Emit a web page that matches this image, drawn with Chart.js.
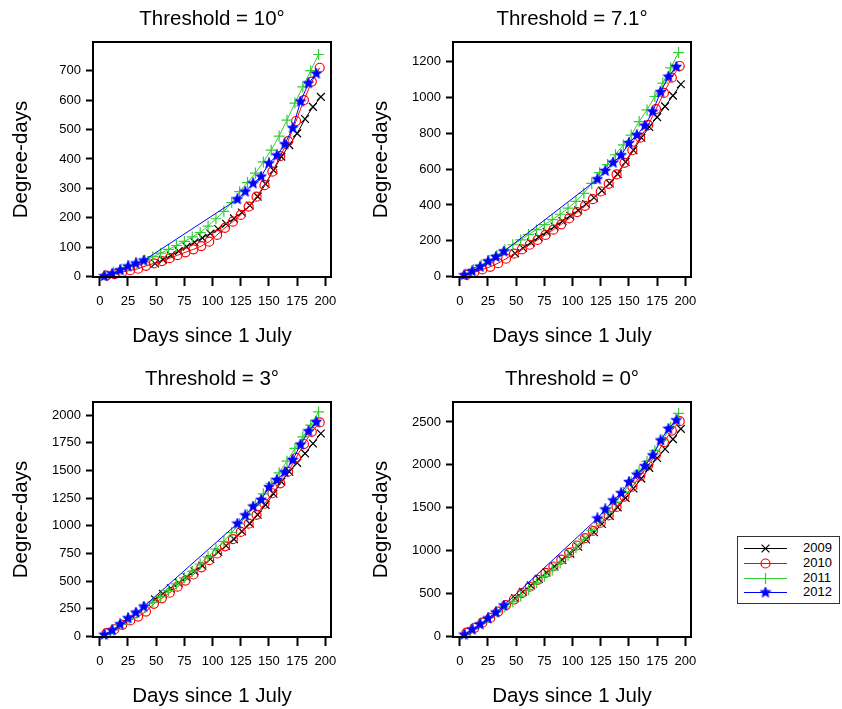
<!DOCTYPE html>
<html><head><meta charset="utf-8">
<script src="https://cdn.jsdelivr.net/npm/chart.js@4"></script>
<style>
html,body{margin:0;padding:0;background:#fff;width:842px;height:709px;overflow:hidden;position:relative;font-family:"Liberation Sans",Arial,sans-serif}
canvas.pc{position:absolute}
#legend{position:absolute;left:737px;top:536px;width:101px;height:66px;border:1px solid #333;background:#fff;z-index:5}
.row{position:absolute;left:0;height:14px;width:101px}
.row canvas{position:absolute;left:0;top:0}
.row span{position:absolute;left:65px;top:-1px;font-size:13px;line-height:16px;color:#000}
</style></head><body>
<canvas id="p1" class="pc" width="424" height="349" style="left:0px;top:0px"></canvas>
<canvas id="p2" class="pc" width="424" height="349" style="left:360px;top:0px"></canvas>
<canvas id="p3" class="pc" width="424" height="349" style="left:0px;top:360px"></canvas>
<canvas id="p4" class="pc" width="424" height="349" style="left:360px;top:360px"></canvas>
<div id="legend"></div>
<script>
// ---------- data ----------
const years = ['2009','2010','2011','2012'];
const xTicks = [0,25,50,75,100,125,150,175,200];

const days2009 = [49,56,63,70,77,84,91,98,105,112,119,126,133,140,147,154,161,168,175,182,189,196];
const days2010 = [6,13,20,27,34,41,48,55,62,69,76,83,90,97,104,111,118,125,132,139,146,153,160,167,174,181,188,195];
const days2011 = [5,12,19,26,33,40,47,54,61,68,75,82,89,96,103,110,117,124,131,138,145,152,159,166,173,180,187,194];
const days2012 = [4,11,18,25,32,39,122,129,136,143,150,157,164,171,178,185,192];

// Threshold = 10°
const t10_2009 = [45,58,72,87,102,117,132,147,162,180,198,218,242,272,315,362,408,447,487,536,577,611];
const t10_2010 = [4,9,16,22,27,37,45,53,63,73,83,93,104,119,142,166,187,210,238,272,311,357,410,461,529,600,663,710];
const t10_2011 = [5,15,25,36,46,57,68,80,93,106,120,135,150,172,197,222,252,289,320,352,390,430,478,532,590,645,700,755];
const t10_2012 = [2,10,22,35,45,55,263,289,317,340,385,412,450,505,595,657,690];
const t10_yTicks = [0,100,200,300,400,500,600,700];

// Threshold = 7.1°
const t71_2009 = [130,160,190,220,250,280,310,340,370,405,440,480,520,572,640,705,775,835,890,950,1010,1073];
const t71_2010 = [10,25,40,55,75,100,128,152,178,205,233,262,292,325,360,395,432,475,518,570,635,705,775,845,935,1025,1110,1175];
const t71_2011 = [15,40,65,92,120,150,178,205,235,262,290,318,348,382,420,465,520,580,625,680,735,790,865,930,1005,1080,1165,1250];
const t71_2012 = [8,30,55,85,110,140,543,590,636,677,745,790,842,920,1030,1115,1170];
const t71_yTicks = [0,200,400,600,800,1000,1200];

// Threshold = 3°
const t3_2009 = [335,385,435,485,535,590,640,700,765,820,880,950,1020,1100,1190,1290,1400,1490,1570,1655,1745,1835];
const t3_2010 = [30,65,105,145,180,225,295,345,395,450,505,560,625,690,750,815,880,945,1020,1100,1200,1295,1385,1490,1615,1740,1850,1935];
const t3_2011 = [20,60,110,160,210,262,310,360,415,475,530,590,655,720,790,860,940,1020,1100,1190,1290,1385,1480,1585,1700,1805,1910,2030];
const t3_2012 = [15,55,110,165,215,270,1020,1095,1175,1235,1350,1415,1485,1595,1735,1855,1940];
const t3_yTicks = [0,250,500,750,1000,1250,1500,1750,2000];

// Threshold = 0°
const t0_2009 = [445,520,595,670,745,815,890,965,1045,1130,1215,1310,1405,1505,1615,1725,1840,1965,2080,2185,2300,2420];
const t0_2010 = [45,100,160,215,290,365,430,505,580,660,740,815,895,975,1060,1145,1230,1325,1410,1510,1630,1745,1870,1995,2120,2265,2400,2510];
const t0_2011 = [25,95,160,220,285,345,405,470,545,625,700,775,855,945,1035,1135,1235,1340,1450,1565,1680,1800,1930,2040,2165,2290,2440,2600];
const t0_2012 = [20,80,140,210,280,360,1375,1480,1585,1670,1800,1885,1985,2110,2285,2420,2520];
const t0_yTicks = [0,500,1000,1500,2000,2500];

// ---------- styling ----------
const FONT = '"Liberation Sans", Arial, sans-serif';
const COLORS = ['#000000','#FF0000','#33CC33','#0000FF'];

function starCanvas(size, color){
  const c = document.createElement('canvas'); c.width = c.height = size;
  const g = c.getContext('2d');
  const cx = size/2, cy = size/2, R = size/2 - 0.5, r = R*0.42;
  g.beginPath();
  for (let i = 0; i < 10; i++) {
    const a = -Math.PI/2 + i*Math.PI/5, rad = (i % 2) ? r : R;
    g.lineTo(cx + rad*Math.cos(a), cy + rad*Math.sin(a));
  }
  g.closePath(); g.fillStyle = color; g.fill();
  g.strokeStyle = color; g.lineWidth = 1; g.stroke();
  return c;
}
const STAR = starCanvas(12, '#0000FF');
const STYLES = [
  {pointStyle:'crossRot', radius:5.5, bg:'#000000'},
  {pointStyle:'circle', radius:4.5, bg:'rgba(0,0,0,0)'},
  {pointStyle:'cross', radius:5.5, bg:'#33CC33'},
  {pointStyle:STAR, radius:6, bg:'#0000FF'}
];

const framePlugin = {
  id:'frame',
  afterDatasetsDraw(chart){
    const {ctx, chartArea:a} = chart;
    ctx.save(); ctx.strokeStyle = '#000'; ctx.lineWidth = 2;
    ctx.strokeRect(a.left, a.top, a.right - a.left, a.bottom - a.top);
    ctx.restore();
  }
};

function pts(days, vals){ return days.map((d,i) => ({x:d, y:vals[i]})); }

function makePanel(id, title, yTicks, yMin, yMax, seriesDays, seriesVals){
  const datasets = seriesVals.map((vals, i) => ({
    label: years[i],
    data: pts(seriesDays[i], vals),
    borderColor: COLORS[i],
    borderWidth: 1,
    pointStyle: STYLES[i].pointStyle,
    pointRadius: STYLES[i].radius,
    pointBorderColor: COLORS[i],
    pointBackgroundColor: STYLES[i].bg,
    pointBorderWidth: 1.2,
    tension: 0,
    fill: false,
    clip: false,
    order: 4 - i
  }));
  new Chart(document.getElementById(id), {
    type: 'line',
    data: {datasets},
    plugins: [framePlugin],
    options: {
      responsive:false, animation:false, devicePixelRatio:1,
      layout:{padding:{left:0, top:0, right:93, bottom:0}},
      plugins:{
        legend:{display:false}, tooltip:{enabled:false},
        title:{display:true, fullSize:false, text:title, color:'#000',
          font:{family:FONT, size:20.5, weight:'normal', lineHeight:1.2},
          padding:{top:6.7, bottom:10.7}}
      },
      scales:{
        x:{
          type:'linear', position:'bottom', min:-6, max:205,
          afterBuildTicks: s => { s.ticks = xTicks.map(v => ({value:v})); },
          afterFit: s => { s.height = 72; },
          grid:{display:true, drawOnChartArea:false, drawTicks:true, tickLength:9, tickWidth:2, tickColor:'#000'},
          border:{display:false},
          ticks:{color:'#000', font:{family:FONT, size:13}, padding:7.5, maxRotation:0, autoSkip:false,
            callback: v => String(v)},
          title:{display:true, text:'Days since 1 July', color:'#000',
            font:{family:FONT, size:20.5, lineHeight:1.2}, padding:{top:0, bottom:0.7}}
        },
        y:{
          type:'linear', position:'left', min:yMin, max:yMax,
          afterBuildTicks: s => { s.ticks = yTicks.map(v => ({value:v})); },
          afterFit: s => { s.width = 93; },
          grid:{display:true, drawOnChartArea:false, drawTicks:true, tickLength:7, tickWidth:2, tickColor:'#000'},
          border:{display:false},
          ticks:{color:'#000', font:{family:FONT, size:13}, padding:5, autoSkip:false,
            callback: v => String(v)},
          title:{display:true, text:'Degree-days', color:'#000',
            font:{family:FONT, size:20.5, lineHeight:1.2}, padding:{top:8.7, bottom:0}}
        }
      }
    }
  });
}

const allDays = [days2009, days2010, days2011, days2012];
makePanel('p1', 'Threshold = 10°', t10_yTicks, -1, 797.5, allDays, [t10_2009, t10_2010, t10_2011, t10_2012]);
makePanel('p2', 'Threshold = 7.1°', t71_yTicks, -2, 1309, allDays, [t71_2009, t71_2010, t71_2011, t71_2012]);
makePanel('p3', 'Threshold = 3°', t3_yTicks, -5, 2120, allDays, [t3_2009, t3_2010, t3_2011, t3_2012]);
makePanel('p4', 'Threshold = 0°', t0_yTicks, -7, 2733, allDays, [t0_2009, t0_2010, t0_2011, t0_2012]);

// ---------- legend ----------
const legend = document.getElementById('legend');
const rowTops = [4.3, 19.3, 33.7, 47.7];
years.forEach((yr, i) => {
  const row = document.createElement('div');
  row.className = 'row'; row.style.top = rowTops[i] + 'px';
  const c = document.createElement('canvas'); c.width = 60; c.height = 14;
  const g = c.getContext('2d');
  g.strokeStyle = COLORS[i]; g.lineWidth = 1;
  g.beginPath(); g.moveTo(6, 7.5); g.lineTo(49, 7.5); g.stroke();
  const cx = 27.5, cy = 7.5;
  g.lineWidth = 1.2;
  if (i === 0) { const d = 3.9; g.beginPath(); g.moveTo(cx-d,cy-d); g.lineTo(cx+d,cy+d); g.moveTo(cx+d,cy-d); g.lineTo(cx-d,cy+d); g.stroke(); }
  if (i === 1) { g.beginPath(); g.arc(cx, cy, 4.5, 0, Math.PI*2); g.stroke(); }
  if (i === 2) { g.beginPath(); g.moveTo(cx-5.5,cy); g.lineTo(cx+5.5,cy); g.moveTo(cx,cy-5.5); g.lineTo(cx,cy+5.5); g.stroke(); }
  if (i === 3) { g.drawImage(STAR, cx-6, cy-6); }
  const s = document.createElement('span'); s.textContent = yr;
  row.appendChild(c); row.appendChild(s); legend.appendChild(row);
});
</script>
</body></html>
